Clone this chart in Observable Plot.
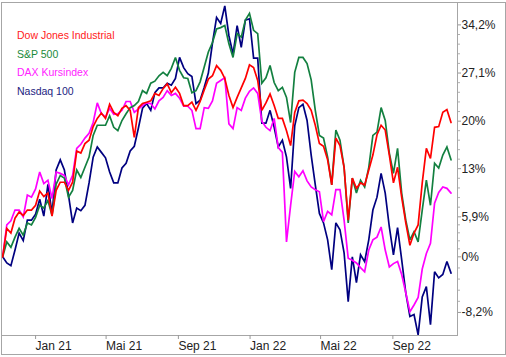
<!DOCTYPE html>
<html><head><meta charset="utf-8">
<script src="https://cdn.jsdelivr.net/npm/d3@7"></script>
<script src="https://cdn.jsdelivr.net/npm/@observablehq/plot@0.6"></script>
<style>
body{margin:0;background:#fff;}
#wrap{position:relative;width:506px;height:357px;overflow:hidden;}
#wrap svg{position:absolute;left:0;top:0;}
#border{position:absolute;left:1px;top:2px;width:503px;height:351px;border:1px solid #a6a6a6;pointer-events:none;}
#legend{position:absolute;left:17px;top:26px;font-family:"Liberation Sans",Arial,sans-serif;font-size:10.5px;line-height:18.7px;white-space:nowrap;}
</style></head>
<body><div id="wrap"><div id="border"></div></div>
<script>
// weekly closes, performance in % since first week
const startDate = "2020-11-06";
const dow = [0,4.2,3.5,5.7,6.6,6.1,6.9,6.9,7.6,9.7,8.9,9.4,6.0,9.8,11.0,11.0,9.8,11.0,15.6,15.3,16.7,17.2,19.2,20.4,21.2,20.4,22.5,21.3,20.8,21.9,22.3,21.6,17.6,22.0,22.6,22.8,23.0,24.1,23.8,24.8,25.5,24.2,25.0,24.1,22.3,22.3,22.8,21.6,22.9,24.6,26.2,26.7,28.2,27.5,26.3,23.8,22.0,23.5,24.9,26.3,28.3,27.9,26.0,21.6,22.7,24.0,22.3,20.4,20.4,18.6,16.4,21.3,23.0,23.1,22.6,21.6,19.4,16.7,16.3,14.3,10.6,17.5,16.4,13.2,5.4,11.6,10.1,10.9,10.6,12.8,15.0,18.0,19.4,18.7,15.0,10.9,13.2,8.8,5.0,1.7,3.5,4.7,10.9,16.0,14.5,19.1,19.2,21.3,21.7,19.8];
const sp500 = [0,2.2,1.4,2.9,4.2,3.2,5.0,4.7,5.8,7.6,7.2,8.3,6.1,10.7,12.0,11.6,8.8,9.8,12.8,11.7,13.2,14.7,17.9,19.4,19.4,19.4,20.8,19.1,18.6,20.1,21.1,22.0,22.3,22.9,24.5,24.1,25.6,25.9,26.7,27.2,26.7,27.8,29.4,27.5,26.4,26.3,24.2,24.5,25.8,28.0,30.2,31.6,33.6,33.8,34.1,31.4,29.4,32.9,32.4,34.9,35.9,33.4,32.9,25.6,26.4,28.2,25.7,24.5,25.0,23.5,19.8,27.2,29.4,29.4,28.5,26.1,21.6,17.9,17.5,14.7,10.6,18.7,17.2,13.2,5.0,11.6,9.4,11.3,10.3,13.2,17.9,18.4,22.0,20.1,15.3,12.3,16.0,9.4,5.4,2.5,3.7,2.2,6.9,11.3,7.6,13.8,13.1,15.0,16.2,14.3];
const dax = [0,4.7,5.3,6.9,6.9,5.9,9.1,8.8,10.0,12.5,10.8,11.3,8.6,12.5,12.3,12.0,10.6,12.0,16.0,16.6,17.5,18.2,19.8,22.7,21.1,20.6,21.9,21.0,21.1,21.6,22.9,22.9,21.3,21.8,22.3,22.7,22.6,21.8,23.0,23.5,24.5,23.8,24.1,23.4,22.2,22.2,21.6,18.9,18.9,22.0,21.9,23.0,25.6,26.0,26.4,19.6,18.9,22.0,21.6,23.4,24.4,24.9,24.1,20.0,19.1,18.6,20.4,16.1,15.4,2.2,7.6,12.6,11.8,12.7,11.2,10.3,9.9,9.6,5.2,6.7,6.2,9.9,9.9,5.4,-0.2,-0.5,-0.9,-1.6,-2.2,1.0,2.5,2.9,4.4,1.0,-1.5,-1.0,-0.7,-2.6,-5.3,-8.1,-7.1,-6.0,-1.8,0.5,2.0,7.9,9.5,10.3,10.1,9.4];
const nasdaq = [0,-0.9,-1.3,1.0,3.5,2.4,5.4,5.4,6.3,8.5,6.0,10.7,6.4,12.8,14.3,12.8,9.1,5.0,7.2,6.8,7.6,10.9,14.7,16.2,15.4,14.6,12.5,10.9,10.9,13.1,13.8,15.6,16.3,19.0,21.9,22.6,21.6,24.2,24.9,24.9,25.6,25.3,26.3,29.4,27.9,27.0,26.6,22.6,23.1,25.0,27.1,31.5,35.3,34.4,37.0,32.6,29.9,34.1,30.9,34.9,35.1,29.3,29.3,19.7,19.7,21.6,19.1,16.2,17.2,14.7,10.1,19.3,22.0,22.5,20.1,15.0,10.6,6.4,5.0,2.5,-1.9,5.0,4.0,0.6,-6.6,0.0,-3.8,0.3,-0.7,2.5,6.9,8.8,12.3,9.4,4.4,0.3,4.3,-0.4,-5.3,-8.8,-8.5,-11.5,-5.9,-4.4,-10.0,-2.2,-3.1,-2.6,-0.7,-2.4];

const seriesNames = ["Dow Jones Industrial", "S&P 500", "DAX Kursindex", "Nasdaq 100"];
const seriesColors = ["#ff0000", "#138040", "#ff00ff", "#000080"];
const legendColors = ["#ff1a1a", "#1a8a3a", "#ff22ff", "#22227f"];
const yTicks = [-8.2, 0, 5.9, 13, 20, 27.1, 34.2];
const xTickDates = ["2021-01-01", "2021-05-01", "2021-09-01", "2022-01-01", "2022-05-01", "2022-09-01"];
const xTickLabels = ["Jan 21", "Mai 21", "Sep 21", "Jan 22", "Mai 22", "Sep 22"];

const start = new Date(startDate);
const dates = dow.map((_, i) => d3.utcDay.offset(start, 7 * i));
const allSeries = [dow, sp500, dax, nasdaq];
const tables = allSeries.map((vals, s) => vals.map((v, i) => ({date: dates[i], value: v, series: seriesNames[s]})));
const labelMap = new Map(xTickDates.map((d, i) => [d, xTickLabels[i]]));
const xTicks = xTickDates.map(d => new Date(d));

// minor ticks on the value axis (4 between each pair of majors)
const minorTicks = [];
for (let k = 0; k < yTicks.length - 1; k++) {
  for (let j = 1; j < 5; j++) minorTicks.push(yTicks[k] + (yTicks[k + 1] - yTicks[k]) * j / 5);
}

const lineMarks = [3, 2, 1, 0].map(s => Plot.line(tables[s], {x: "date", y: "value", stroke: seriesColors[s], strokeWidth: 1.7, strokeLinejoin: "miter", strokeMiterlimit: 3}));

const chart = Plot.plot({
  width: 506, height: 357,
  marginTop: 2, marginLeft: 1, marginRight: 49, marginBottom: 22,
  x: {type: "utc", domain: [new Date("2020-11-04"), new Date("2022-12-20")], label: null},
  y: {domain: [-11.6, 37.5], label: null},
  style: {fontFamily: "'Liberation Sans', Arial, sans-serif", fontSize: "12px", color: "#222", background: "transparent"},
  marks: [
    Plot.frame({stroke: "#a6a6a6"}),
    ...lineMarks,
    Plot.axisY(minorTicks, {anchor: "right", tickSize: 2, stroke: "#b0b0b0", text: null, label: null}),
    Plot.axisY(yTicks, {anchor: "right", tickSize: 3, tickPadding: 1, stroke: "#999", fill: "#222", fontSize: 12, label: null,
      tickFormat: d => String(d).replace(".", ",") + "%"}),
    Plot.axisX(xTicks, {anchor: "bottom", tickSize: 4, tickPadding: 2, stroke: "#999", fill: "#222", fontSize: 12, label: null,
      textAnchor: "start", tickFormat: d => labelMap.get(d.toISOString().slice(0, 10))})
  ]
});
const wrap = document.getElementById("wrap");
wrap.insertBefore(chart, wrap.firstChild);

const legend = document.createElement("div");
legend.id = "legend";
seriesNames.forEach((n, i) => {
  const d = document.createElement("div");
  d.textContent = n;
  d.style.color = legendColors[i];
  legend.appendChild(d);
});
wrap.appendChild(legend);
</script>
</body></html>
